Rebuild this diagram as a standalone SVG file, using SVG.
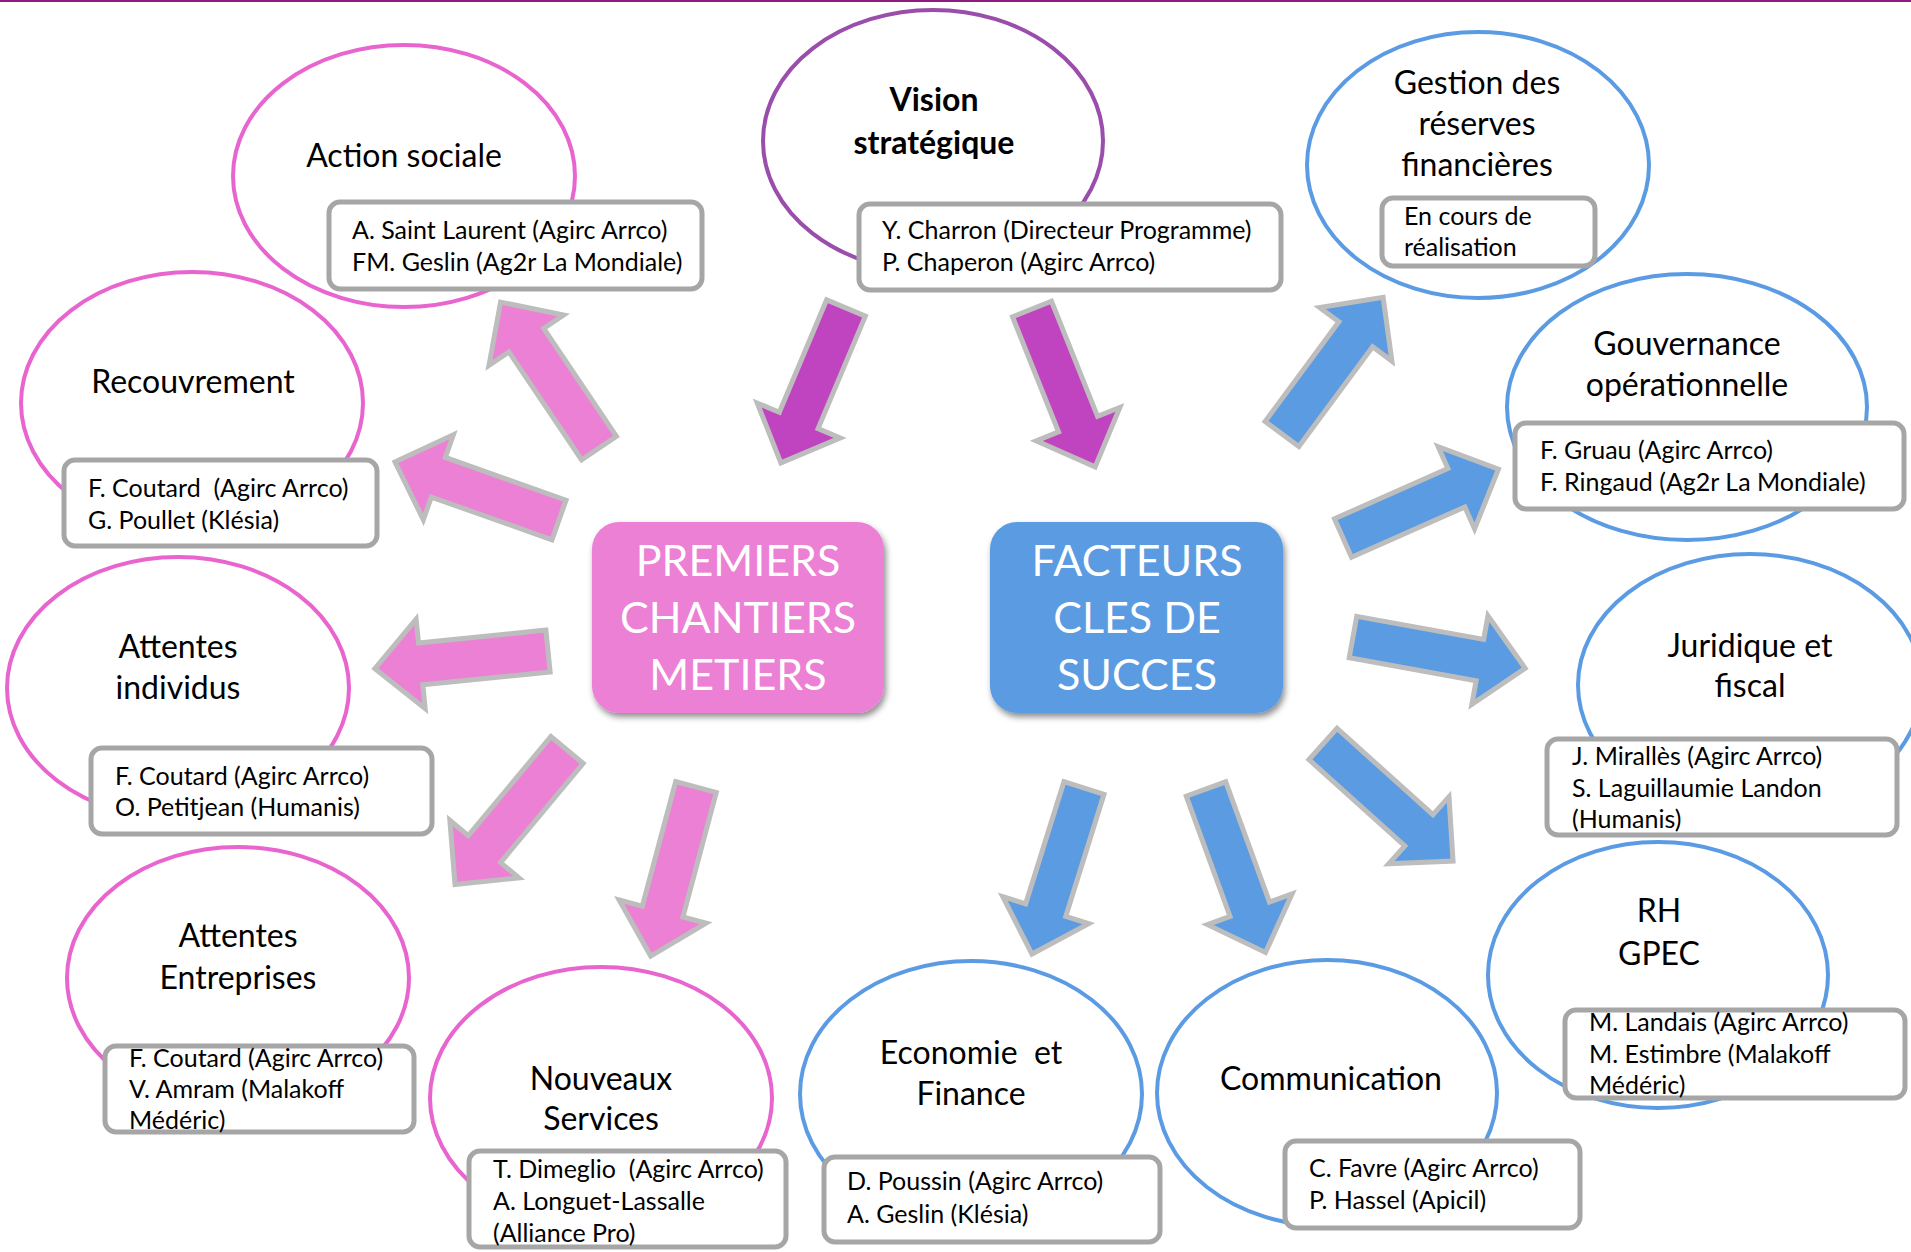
<svg xmlns="http://www.w3.org/2000/svg" width="1911" height="1252" viewBox="0 0 1911 1252">
<style>
.ep{fill:#fff;stroke:#E865CF;stroke-width:4}
.ev{fill:#fff;stroke:#9A4DAB;stroke-width:4}
.eb{fill:#fff;stroke:#5B9BE3;stroke-width:4}
.bx{fill:#fff;stroke:#A6A6A6;stroke-width:5}
.ti{font-family:Lato,"Open Sans",sans-serif;font-size:32px;fill:#000;text-anchor:middle}
.tb{font-family:Lato,"Open Sans",sans-serif;font-size:32px;font-weight:bold;fill:#000;text-anchor:middle}
.bt{font-family:Lato,"Open Sans",sans-serif;font-size:25px;fill:#000}
.ct{font-family:Lato,"Open Sans",sans-serif;font-size:43px;fill:#fff;text-anchor:middle}
.ar{stroke:#BDBDBD;stroke-width:5;stroke-linejoin:miter}
.ap{fill:#EC80D4}
.am{fill:#C043C0}
.ab{fill:#5A9BE2}
</style>
<defs>
<filter id="sh" x="-10%" y="-10%" width="125%" height="130%">
<feDropShadow dx="2" dy="4" stdDeviation="3" flood-color="#000" flood-opacity="0.45"/>
</filter>
</defs>
<rect x="0" y="0" width="1911" height="2" fill="#8E1C7E"/>

<g id="action-sociale">
<ellipse class="ep" cx="404" cy="176" rx="171" ry="131"/>
<text class="ti" x="404" y="167">Action sociale</text>
<rect class="bx" x="329" y="202" width="373" height="87" rx="11"/>
<text class="bt" x="352" y="239">A. Saint Laurent (Agirc Arrco)</text>
<text class="bt" x="352" y="271">FM. Geslin (Ag2r La Mondiale)</text>
</g>

<g id="vision-strategique">
<ellipse class="ev" cx="933" cy="141" rx="170" ry="131"/>
<text class="tb" x="934" y="111">Vision</text>
<text class="tb" x="934" y="154">stratégique</text>
<rect class="bx" x="859" y="204" width="422" height="86" rx="11"/>
<text class="bt" x="882" y="239">Y. Charron (Directeur Programme)</text>
<text class="bt" x="882" y="271">P. Chaperon (Agirc Arrco)</text>
</g>

<g id="gestion-reserves">
<ellipse class="eb" cx="1478" cy="165" rx="171" ry="133"/>
<text class="ti" x="1477" y="94">Gestion des</text>
<text class="ti" x="1477" y="135">réserves</text>
<text class="ti" x="1477" y="176">financières</text>
<rect class="bx" x="1382" y="198" width="213" height="68" rx="11"/>
<text class="bt" x="1404" y="225">En cours de</text>
<text class="bt" x="1404" y="256">réalisation</text>
</g>

<g id="gouvernance">
<ellipse class="eb" cx="1687" cy="407" rx="180" ry="133"/>
<text class="ti" x="1687" y="355">Gouvernance</text>
<text class="ti" x="1687" y="396">opérationnelle</text>
<rect class="bx" x="1515" y="423" width="389" height="86" rx="11"/>
<text class="bt" x="1540" y="459">F. Gruau (Agirc Arrco)</text>
<text class="bt" x="1540" y="491">F. Ringaud (Ag2r La Mondiale)</text>
</g>

<g id="juridique">
<ellipse class="eb" cx="1750" cy="685" rx="172" ry="131"/>
<text class="ti" x="1750" y="657">Juridique et</text>
<text class="ti" x="1750" y="697">fiscal</text>
<rect class="bx" x="1547" y="739" width="350" height="96" rx="11"/>
<text class="bt" x="1572" y="765">J. Mirallès (Agirc Arrco)</text>
<text class="bt" x="1572" y="797">S. Laguillaumie Landon</text>
<text class="bt" x="1572" y="828">(Humanis)</text>
</g>

<g id="rh-gpec">
<ellipse class="eb" cx="1658" cy="975" rx="170" ry="133"/>
<text class="ti" x="1659" y="922">RH</text>
<text class="ti" x="1659" y="965">GPEC</text>
<rect class="bx" x="1565" y="1010" width="340" height="88" rx="11"/>
<text class="bt" x="1589" y="1031">M. Landais (Agirc Arrco)</text>
<text class="bt" x="1589" y="1063">M. Estimbre (Malakoff</text>
<text class="bt" x="1589" y="1094">Médéric)</text>
</g>

<g id="communication">
<ellipse class="eb" cx="1327" cy="1093" rx="170" ry="133"/>
<text class="ti" x="1331" y="1090">Communication</text>
<rect class="bx" x="1285" y="1141" width="295" height="87" rx="11"/>
<text class="bt" x="1309" y="1177">C. Favre (Agirc Arrco)</text>
<text class="bt" x="1309" y="1209">P. Hassel (Apicil)</text>
</g>

<g id="economie-finance">
<ellipse class="eb" cx="971" cy="1094" rx="171" ry="133"/>
<text class="ti" x="971" y="1064" xml:space="preserve">Economie  et</text>
<text class="ti" x="971" y="1105">Finance</text>
<rect class="bx" x="824" y="1157" width="336" height="85" rx="11"/>
<text class="bt" x="847" y="1190">D. Poussin (Agirc Arrco)</text>
<text class="bt" x="847" y="1223">A. Geslin (Klésia)</text>
</g>

<g id="nouveaux-services">
<ellipse class="ep" cx="601" cy="1098" rx="171" ry="131"/>
<text class="ti" x="601" y="1090">Nouveaux</text>
<text class="ti" x="601" y="1130">Services</text>
<rect class="bx" x="469" y="1151" width="317" height="96" rx="11"/>
<text class="bt" x="493" y="1178" xml:space="preserve">T. Dimeglio  (Agirc Arrco)</text>
<text class="bt" x="493" y="1210">A. Longuet-Lassalle</text>
<text class="bt" x="493" y="1242">(Alliance Pro)</text>
</g>

<g id="attentes-entreprises">
<ellipse class="ep" cx="238" cy="978" rx="171" ry="131"/>
<text class="ti" x="238" y="947">Attentes</text>
<text class="ti" x="238" y="989">Entreprises</text>
<rect class="bx" x="105" y="1046" width="309" height="86" rx="11"/>
<text class="bt" x="129" y="1067">F. Coutard (Agirc Arrco)</text>
<text class="bt" x="129" y="1098">V. Amram (Malakoff</text>
<text class="bt" x="129" y="1129">Médéric)</text>
</g>

<g id="attentes-individus">
<ellipse class="ep" cx="178" cy="688" rx="171" ry="131"/>
<text class="ti" x="178" y="658">Attentes</text>
<text class="ti" x="178" y="699">individus</text>
<rect class="bx" x="91" y="748" width="341" height="86" rx="11"/>
<text class="bt" x="115" y="785">F. Coutard (Agirc Arrco)</text>
<text class="bt" x="115" y="816">O. Petitjean (Humanis)</text>
</g>

<g id="recouvrement">
<ellipse class="ep" cx="192" cy="403" rx="171" ry="131"/>
<text class="ti" x="193" y="393">Recouvrement</text>
<rect class="bx" x="64" y="460" width="313" height="86" rx="11"/>
<text class="bt" x="88" y="497" xml:space="preserve">F. Coutard  (Agirc Arrco)</text>
<text class="bt" x="88" y="529">G. Poullet (Klésia)</text>
</g>

<g id="premiers-chantiers">
<rect x="592" y="522" width="292" height="191" rx="27" fill="#EC80D4" filter="url(#sh)"/>
<text class="ct" x="738" y="576">PREMIERS</text>
<text class="ct" x="738" y="633">CHANTIERS</text>
<text class="ct" x="738" y="690">METIERS</text>
</g>

<g id="facteurs-cles">
<rect x="990" y="522" width="293" height="191" rx="27" fill="#5A9BE2" filter="url(#sh)"/>
<text class="ct" x="1137" y="576">FACTEURS</text>
<text class="ct" x="1137" y="633">CLES DE</text>
<text class="ct" x="1137" y="690">SUCCES</text>
</g>

<g id="connectors">
<path class="ar am" transform="translate(846,308) rotate(112.8)" d="M0,-21 H122 V-45 L168,0 L122,45 V21 H0 Z"/>
<path class="ar am" transform="translate(1032,309) rotate(68.2)" d="M0,-21 H124 V-45 L170,0 L124,45 V21 H0 Z"/>
<path class="ar ap" transform="translate(599,448) rotate(-124)" d="M0,-21 H130 V-45 L176,0 L130,45 V21 H0 Z"/>
<path class="ar ap" transform="translate(559,520) rotate(-160.5)" d="M0,-21 H128 V-45 L174,0 L128,45 V21 H0 Z"/>
<path class="ar ap" transform="translate(548,651) rotate(174.2)" d="M0,-21 H128 V-45 L174,0 L128,45 V21 H0 Z"/>
<path class="ar ap" transform="translate(567,750) rotate(129.8)" d="M0,-21 H129 V-45 L175,0 L129,45 V21 H0 Z"/>
<path class="ar ap" transform="translate(696,787) rotate(105)" d="M0,-21 H129 V-45 L175,0 L129,45 V21 H0 Z"/>
<path class="ar ab" transform="translate(1282,434) rotate(-53.5)" d="M0,-21 H124 V-45 L170,0 L124,45 V21 H0 Z"/>
<path class="ar ab" transform="translate(1343,538) rotate(-23.9)" d="M0,-21 H124 V-45 L170,0 L124,45 V21 H0 Z"/>
<path class="ar ab" transform="translate(1353,637) rotate(10.3)" d="M0,-21 H129 V-45 L175,0 L129,45 V21 H0 Z"/>
<path class="ar ab" transform="translate(1323,744) rotate(42)" d="M0,-21 H129 V-45 L175,0 L129,45 V21 H0 Z"/>
<path class="ar ab" transform="translate(1084,788) rotate(107.4)" d="M0,-21 H128 V-45 L174,0 L128,45 V21 H0 Z"/>
<path class="ar ab" transform="translate(1206,789) rotate(70)" d="M0,-21 H128 V-45 L174,0 L128,45 V21 H0 Z"/>
</g>
</svg>
